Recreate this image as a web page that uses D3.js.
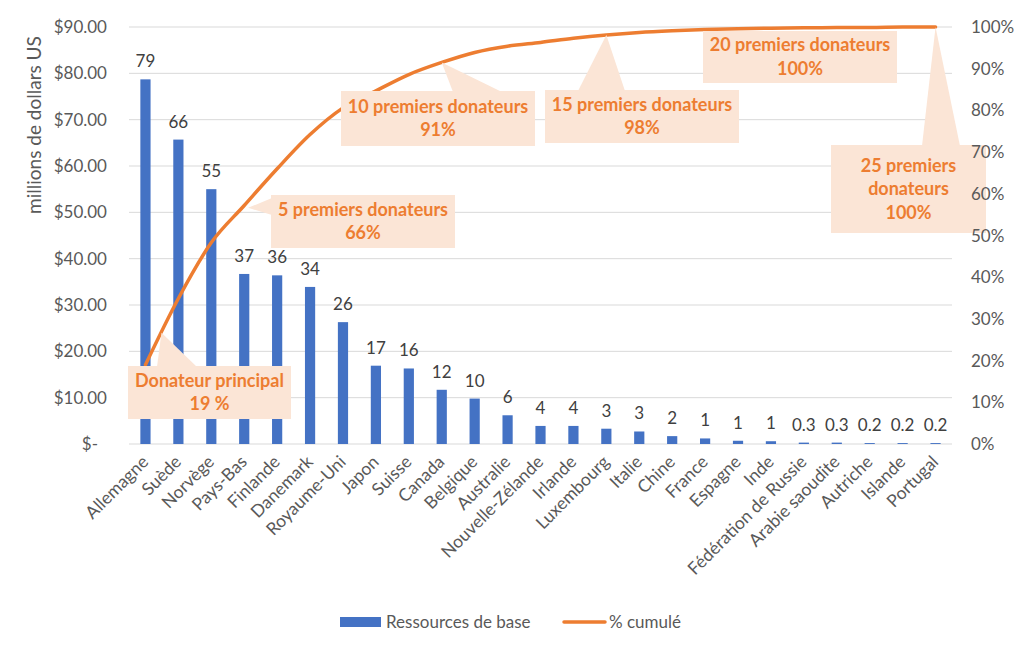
<!DOCTYPE html>
<html>
<head>
<meta charset="utf-8">
<script src="https://cdn.jsdelivr.net/npm/d3@7"></script>
<style>
  body { margin: 0; background: #fff; }
  text { font-family: Lato, "Open Sans", sans-serif; }
</style>
</head>
<body>
<div id="chart"></div>
<script>
let countries = ["Allemagne", "Suède", "Norvège", "Pays-Bas", "Finlande", "Danemark", "Royaume-Uni",
    "Japon", "Suisse", "Canada", "Belgique", "Australie", "Nouvelle-Zélande", "Irlande", "Luxembourg",
    "Italie", "Chine", "France", "Espagne", "Inde", "Fédération de Russie", "Arabie saoudite",
    "Autriche", "Islande", "Portugal"];
let ressources = [78.7, 65.7, 55.0, 36.7, 36.4, 33.9, 26.3, 16.9, 16.3, 11.7, 9.8, 6.2, 3.9, 3.9, 3.3,
    2.7, 1.7, 1.2, 0.7, 0.6, 0.3, 0.3, 0.2, 0.2, 0.2];
let cumule = [19.0, 34.9, 48.3, 57.2, 66.0, 74.2, 80.6, 84.7, 88.6, 91.5, 93.9, 95.4, 96.3, 97.3, 98.1,
    98.7, 99.1, 99.4, 99.6, 99.7, 99.8, 99.9, 99.9, 100.0, 100.0];
let leftTicks = [0, 10, 20, 30, 40, 50, 60, 70, 80, 90];
let rightTicks = [0, 10, 20, 30, 40, 50, 60, 70, 80, 90, 100];

// callouts: index of the point, box layout, text lines, tip offset from the point
let callouts = [
    { i: 0, lines: ["Donateur principal", "19 %"], box: [128, 366, 163, 53], base: [157, 197], tip: [16, -32] },
    { i: 4, lines: ["5 premiers donateurs", "66%"], box: [271, 195, 184, 53], side: [198, 215], tip: [-29, 39] },
    { i: 9, lines: ["10 premiers donateurs", "91%"], box: [341, 91, 194, 55], base: [453, 502], tip: [0, 0] },
    { i: 14, lines: ["15 premiers donateurs", "98%"], box: [545, 90, 194, 53], base: [578, 625], tip: [0, 0] },
    { i: 19, lines: ["20 premiers donateurs", "100%"], box: [703, 31, 194, 52], tip: null },
    { i: 24, lines: ["25 premiers", "donateurs", "100%"], box: [831, 145, 155, 88], base: [922, 960], tip: [0, 0] }
];

let svgWidth = 1016;
let svgHeight = 647;
let plot = { left: 129, right: 952, top: 27, bottom: 444 };

let svg = d3.select("#chart")
    .append("svg")
    .attr("width", svgWidth)
    .attr("height", svgHeight);

let x = d3.scaleBand()
    .domain(countries)
    .range([plot.left, plot.right])
    .paddingInner(0.69)
    .paddingOuter(0.345);
let y = d3.scaleLinear().domain([0, 90]).range([plot.bottom, plot.top]);
let yR = d3.scaleLinear().domain([0, 100]).range([plot.bottom, plot.top]);
let cx = d => x(d) + x.bandwidth() / 2;

// gridlines
svg.append("g")
    .selectAll("line")
    .data(leftTicks)
    .enter()
    .append("line")
    .attr("x1", plot.left)
    .attr("x2", plot.right)
    .attr("y1", d => y(d))
    .attr("y2", d => y(d))
    .attr("stroke", "#d9d9d9")
    .attr("stroke-width", 1);

// left axis labels
svg.append("g")
    .selectAll("text")
    .data(leftTicks)
    .enter()
    .append("text")
    .attr("x", d => d === 0 ? 98 : 107)
    .attr("y", d => y(d) + 6)
    .attr("text-anchor", "end")
    .attr("font-size", 17)
    .attr("fill", "#595959")
    .text(d => d === 0 ? "$-" : "$" + d.toFixed(2));

svg.append("text")
    .attr("transform", "translate(41, 125) rotate(-90)")
    .attr("text-anchor", "middle")
    .attr("font-size", 19)
    .attr("fill", "#595959")
    .text("millions de dollars US");

// bars
svg.append("g")
    .selectAll("rect")
    .data(countries)
    .enter()
    .append("rect")
    .attr("x", d => x(d))
    .attr("width", x.bandwidth())
    .attr("y", (d, i) => y(ressources[i]))
    .attr("height", (d, i) => y(0) - y(ressources[i]))
    .attr("fill", "#4472c4");

// value labels
svg.append("g")
    .selectAll("text")
    .data(countries)
    .enter()
    .append("text")
    .attr("x", d => cx(d))
    .attr("y", (d, i) => y(ressources[i]) - 12)
    .attr("text-anchor", "middle")
    .attr("font-size", 17)
    .attr("fill", "#404040")
    .text((d, i) => ressources[i] < 0.5 ? ressources[i].toFixed(1) : Math.round(ressources[i]));

// x labels
svg.append("g")
    .selectAll("text")
    .data(countries)
    .enter()
    .append("text")
    .attr("transform", d => `translate(${cx(d) + 4}, 463) rotate(-45)`)
    .attr("text-anchor", "end")
    .attr("font-size", 17.5)
    .attr("fill", "#595959")
    .text(d => d);

// cumulative line
let line = d3.line()
    .x((d, i) => cx(countries[i]))
    .y(d => yR(d))
    .curve(d3.curveMonotoneX);

svg.append("path")
    .datum(cumule)
    .attr("d", line)
    .attr("fill", "none")
    .attr("stroke", "#ed7d31")
    .attr("stroke-width", 3.5)
    .attr("stroke-linecap", "round");

// callouts
callouts.forEach(function (c) {
    let [bx, by, bw, bh] = c.box;
    let g = svg.append("g");
    if (c.tip) {
        let tx = cx(countries[c.i]) + c.tip[0];
        let ty = yR(cumule[c.i]) + c.tip[1];
        let pts;
        if (c.side) {
            pts = [[bx + 1, c.side[0]], [tx, ty], [bx + 1, c.side[1]]];
        } else if (ty < by) {
            pts = [[c.base[0], by + 1], [tx, ty], [c.base[1], by + 1]];
        } else {
            pts = [[c.base[0], by + bh - 1], [tx, ty], [c.base[1], by + bh - 1]];
        }
        g.append("polygon")
            .attr("points", pts.map(p => p.join(",")).join(" "))
            .attr("fill", "#fbe5d6");
    }
    g.append("rect")
        .attr("x", bx)
        .attr("y", by)
        .attr("width", bw)
        .attr("height", bh)
        .attr("fill", "#fbe5d6");
    let lh = 23.5;
    let startY = by + bh / 2 - (c.lines.length - 1) * lh / 2 + 6;
    c.lines.forEach(function (t, k) {
        g.append("text")
            .attr("x", bx + bw / 2)
            .attr("y", startY + k * lh)
            .attr("text-anchor", "middle")
            .attr("font-size", 18)
            .attr("font-weight", "bold")
            .attr("fill", "#ed7d31")
            .text(t);
    });
});

// right axis labels
svg.append("g")
    .selectAll("text")
    .data(rightTicks)
    .enter()
    .append("text")
    .attr("x", 971)
    .attr("y", d => yR(d) + 6)
    .attr("text-anchor", "start")
    .attr("font-size", 17)
    .attr("fill", "#595959")
    .text(d => d + "%");

// legend
let legend = svg.append("g");
legend.append("rect")
    .attr("x", 340)
    .attr("y", 617)
    .attr("width", 41)
    .attr("height", 10)
    .attr("fill", "#4472c4");
legend.append("text")
    .attr("x", 386)
    .attr("y", 628)
    .attr("font-size", 17)
    .attr("fill", "#595959")
    .text("Ressources de base");
legend.append("line")
    .attr("x1", 564)
    .attr("x2", 605)
    .attr("y1", 622)
    .attr("y2", 622)
    .attr("stroke", "#ed7d31")
    .attr("stroke-width", 3.5)
    .attr("stroke-linecap", "round");
legend.append("text")
    .attr("x", 609)
    .attr("y", 628)
    .attr("font-size", 17)
    .attr("fill", "#595959")
    .text("% cumulé");
</script>
</body>
</html>
